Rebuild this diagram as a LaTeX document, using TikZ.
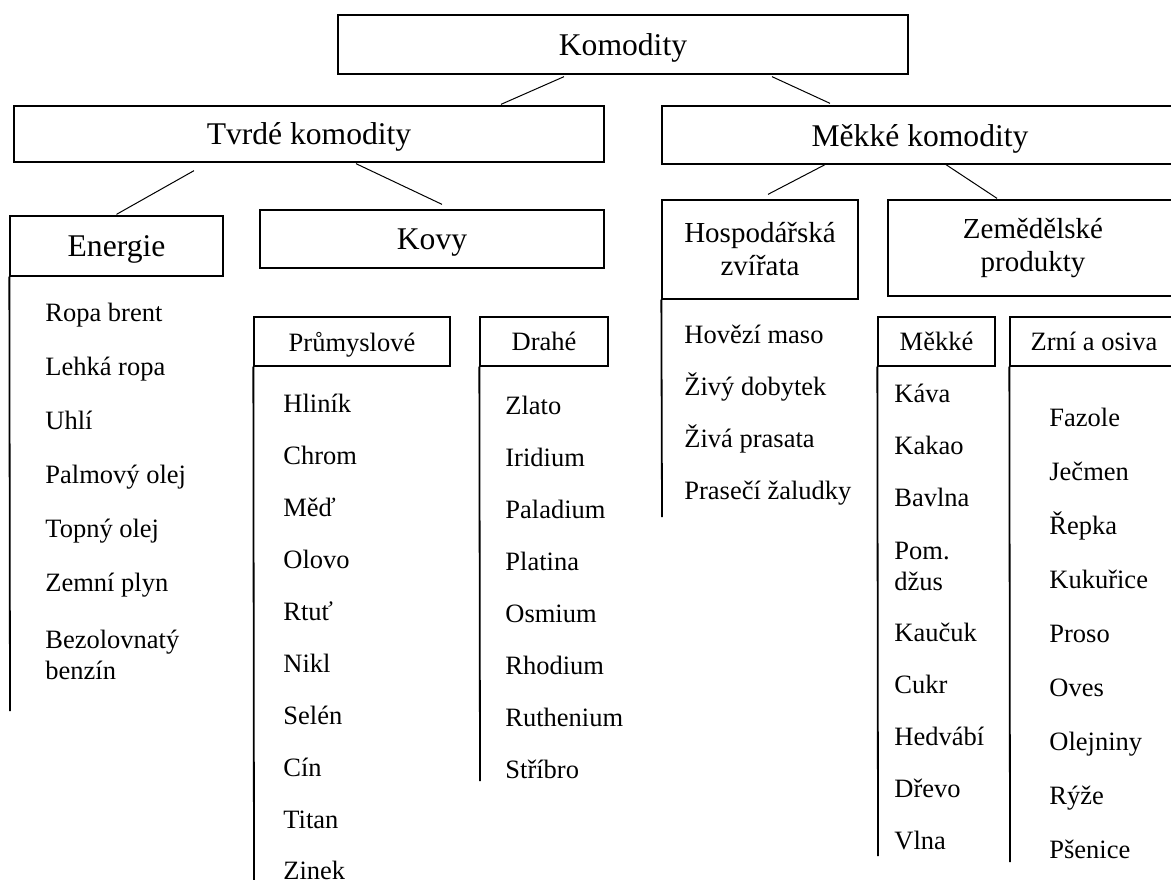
\documentclass[tikz,border=0pt]{standalone}
\usepackage{fontspec}
\setmainfont{Liberation Serif}
\usetikzlibrary{calc}

\newcommand{\bigsize}{\fontsize{15.8}{19}\selectfont}
\newcommand{\midsize}{\fontsize{14.5}{16.5}\selectfont}
\newcommand{\smallsize}{\fontsize{13.25}{15.5}\selectfont}

\begin{document}
\begin{tikzpicture}[
    x=0.5pt, y=-0.5pt,
    frame/.style={draw, line width=0.65pt, inner sep=0pt, align=center},
    box/.style={frame, font=\bigsize, text depth=0pt},
    midbox/.style={frame, font=\midsize},
    subbox/.style={frame, font=\smallsize, text depth=0pt, minimum height=24.5pt},
    item/.style={anchor=west, inner sep=0pt, font=\smallsize,
                 text height=0.72em, text depth=0.22em},
    twoline/.style={anchor=west, inner sep=0pt, align=left, font=\smallsize},
    conn/.style={line width=0.5pt},
    rail/.style={line width=0.9pt}
]
\useasboundingbox (0,0) rectangle (1171,879);

% levels 1 and 2
\node[box, minimum width=285pt, minimum height=29.5pt] (kom) at (623,44.5) {Komodity};
\node[box, minimum width=295pt, minimum height=28pt] (tvr) at (309,134) {Tvrdé komodity};
\node[box, minimum width=258pt, minimum height=29pt] (mek) at (920,135) {Měkké komodity};

% level 3
\node[box, minimum width=106.5pt, minimum height=30pt] (ene) at (116.5,246) {Energie};
\node[box, minimum width=172pt, minimum height=29pt] (kovy) at (432,239) {Kovy};
\node[midbox, minimum width=98pt, minimum height=49.5pt] (hosp) at (760,249.5) {Hospodářská\\zvířata};
\node[midbox, minimum width=145pt, minimum height=48pt] (zem) at (1033,248) {Zemědělské\\produkty};

% level 4
\node[subbox, minimum width=98pt] (prum) at (352,341.5) {Průmyslové};
\node[subbox, minimum width=64pt] (drahe) at (544,341.5) {Drahé};
\node[subbox, minimum width=58.5pt] (msub) at (936.5,341.5) {Měkké};
\node[subbox, minimum width=84pt] (zrni) at (1094,341.5) {Zrní a osiva};

\foreach \a/\ax/\ay/\b/\bx/\by in {kom/-59/2/tvr/192/-1, kom/149/2/mek/-90/-2,
    tvr/-115/8/ene/0/-1, tvr/47/1/kovy/10/-5,
    mek/-95/0/hosp/8/-5, mek/26/0/zem/-36/-1}{
    \draw[conn] ($(\a.south)+(\ax,\ay)$) -- ($(\b.north)+(\bx,\by)$);
}

% rails below the boxes
\foreach \n/\x/\yend in {ene/10/711, prum/254/885, drahe/480/781,
    hosp/662/517, msub/878/856, zrni/1010/862}{
    \coordinate (\n end) at (\x,\yend);
    \draw[rail] (\n.south west) -- (\n end);
}

% lists
\foreach \y/\t [count=\i] in {316/Ropa brent, 370/Lehká ropa, 424/Uhlí,
    478/Palmový olej, 532/Topný olej, 586/Zemní plyn}
    \node[item] (ene\i) at (45,\y) {\t};
\node[twoline] (ene7) at (45,655) {Bezolovnatý\\benzín};
\foreach \y/\t [count=\i] in {407/Hliník, 459/Chrom, 511/Měď, 563/Olovo, 615/Rtuť,
    667/Nikl, 719/Selén, 771/Cín, 823/Titan, 874/Zinek}
    \node[item] (prum\i) at (283,\y) {\t};
\foreach \y/\t [count=\i] in {409/Zlato, 461/Iridium, 513/Paladium, 565/Platina,
    617/Osmium, 669/Rhodium, 721/Ruthenium, 773/Stříbro}
    \node[item] (drahe\i) at (505,\y) {\t};
\foreach \y/\t [count=\i] in {338/Hovězí maso, 390/Živý dobytek, 442/Živá prasata,
    494/Prasečí žaludky}
    \node[item] (hosp\i) at (684,\y) {\t};
\foreach \y/\t [count=\i] in {397/Káva, 449/Kakao, 501/Bavlna}
    \node[item] (msub\i) at (894,\y) {\t};
\node[twoline] (msub4) at (894,566) {Pom.\\džus};
\foreach \y/\t [count=\i from 5] in {636/Kaučuk, 688/Cukr, 740/Hedvábí, 792/Dřevo, 844/Vlna}
    \node[item] (msub\i) at (894,\y) {\t};
\foreach \y/\t [count=\i] in {421/Fazole, 475/Ječmen, 529/Řepka, 583/Kukuřice,
    637/Proso, 691/Oves, 745/Olejniny, 799/Rýže, 853/Pšenice}
    \node[item] (zrni\i) at (1049,\y) {\t};

\end{tikzpicture}
\end{document}
